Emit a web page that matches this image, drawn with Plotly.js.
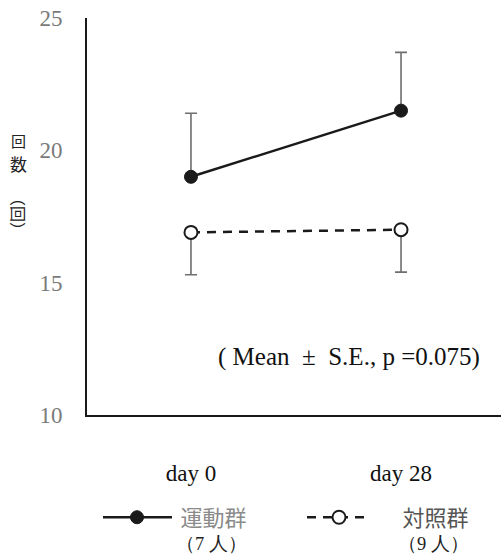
<!DOCTYPE html>
<html><head><meta charset="utf-8">
<script src="https://cdn.plot.ly/plotly-3.0.1.min.js"></script>
<style>html,body{margin:0;padding:0;background:#fff}</style>
</head><body>
<div id="chart" style="width:501px;height:554px"></div>
<script>
const categories = ['day 0', 'day 28'];
const exerciseMean = [19.0, 21.5];
const exerciseSE = [2.4, 2.2];
const controlMean = [16.9, 17.0];
const controlSE = [1.6, 1.6];
const groupNames = ['運動群', '対照群'];
const groupN = ['（7 人）', '（9 人）'];
const groupNameColors = ['#8a8a8a', '#555555'];
const yTicks = [10, 15, 20, 25];
const note = '( Mean\u00a0\u00a0±\u00a0\u00a0S.E., p =0.075)';
const yTitle1 = '回';
const yTitle2 = '数';
const yTitle3 = '（回）';

const L = 87, T = 17.5, W = 501 - 87, H = 415.5 - 17.5;
const px = v => (v - L) / W;
const py = v => (T + H - v) / H;
const serif = 'Liberation Serif';
const cjk = 'Noto Sans CJK JP';

const traces = [
  {x: categories, y: exerciseMean, type: 'scatter', mode: 'lines+markers',
   line: {color: '#1a1a1a', width: 2.5},
   marker: {size: 13, color: '#1a1a1a', line: {color: '#1a1a1a', width: 1}},
   error_y: {type: 'data', symmetric: false, array: exerciseSE, arrayminus: [0, 0],
             color: '#6e6e6e', thickness: 1.6, width: 6},
   showlegend: false},
  {x: categories, y: controlMean, type: 'scatter', mode: 'lines+markers',
   line: {color: '#1a1a1a', width: 2.5, dash: '9px,7px'},
   marker: {size: 13, color: '#ffffff', line: {color: '#1a1a1a', width: 2}},
   error_y: {type: 'data', symmetric: false, array: [0, 0], arrayminus: controlSE,
             color: '#6e6e6e', thickness: 1.6, width: 6},
   showlegend: false}
];

const shapes = [
  {type: 'line', xref: 'paper', yref: 'paper', x0: px(103), x1: px(172), y0: py(518), y1: py(518),
   line: {color: '#1a1a1a', width: 2.5}},
  {type: 'circle', xref: 'paper', yref: 'paper', xsizemode: 'pixel', ysizemode: 'pixel',
   xanchor: px(137), yanchor: py(518), x0: -6.5, x1: 6.5, y0: -6.5, y1: 6.5,
   fillcolor: '#1a1a1a', line: {color: '#1a1a1a', width: 1}},
  {type: 'line', xref: 'paper', yref: 'paper', x0: px(307), x1: px(371), y0: py(518), y1: py(518),
   line: {color: '#1a1a1a', width: 2.5, dash: '9px,7px'}},
  {type: 'circle', xref: 'paper', yref: 'paper', xsizemode: 'pixel', ysizemode: 'pixel',
   xanchor: px(339), yanchor: py(518), x0: -6.5, x1: 6.5, y0: -6.5, y1: 6.5,
   fillcolor: '#ffffff', line: {color: '#1a1a1a', width: 2}}
];

const annot = (x, y, text, font, xanchor, angle) => ({xref: 'paper', yref: 'paper', x: px(x), y: py(y),
  xanchor: xanchor || 'center', yanchor: 'middle', text: text, showarrow: false, font: font,
  align: 'left', borderpad: 0, textangle: angle || 0});

const legendText = i => '<span style="font-family:\'' + cjk + '\';font-size:22px;color:' +
  groupNameColors[i] + '">\u2009' + groupNames[i] + '</span><br>' + groupN[i];

const annotations = [
  annot(349, 357, note, {family: serif, size: 25, color: '#111'}),
  annot(175, 528, legendText(0), {family: serif, size: 18.5, color: '#222'}, 'left'),
  annot(397, 528, legendText(1), {family: serif, size: 18.5, color: '#222'}, 'left'),
  annot(18, 140, yTitle1, {family: cjk, size: 15, color: '#222'}),
  annot(18, 163, yTitle2, {family: cjk, size: 17, color: '#222'}),
  annot(19, 214, yTitle3, {family: cjk, size: 16, color: '#222'}, 'center', 90)
];

const layout = {
  width: 501, height: 554,
  margin: {l: L, r: 0, t: T, b: 554 - 415.5, pad: 0},
  paper_bgcolor: '#fff', plot_bgcolor: '#fff',
  xaxis: {type: 'category', range: [-0.495, 1.476], showgrid: false, zeroline: false,
          showline: true, linecolor: '#1a1a1a', linewidth: 2, ticks: '',
          tickfont: {family: serif, size: 23, color: '#111'}, ticklabelstandoff: 36},
  yaxis: {range: [10, 25], tickvals: yTicks, showgrid: false, zeroline: false,
          showline: true, linecolor: '#1a1a1a', linewidth: 2, ticks: '',
          tickfont: {family: serif, size: 23, color: '#7a7a7a'}, ticklabelstandoff: 18},
  shapes: shapes, annotations: annotations, showlegend: false
};

Plotly.newPlot('chart', traces, layout, {displayModeBar: false, staticPlot: true});
</script>
</body></html>
